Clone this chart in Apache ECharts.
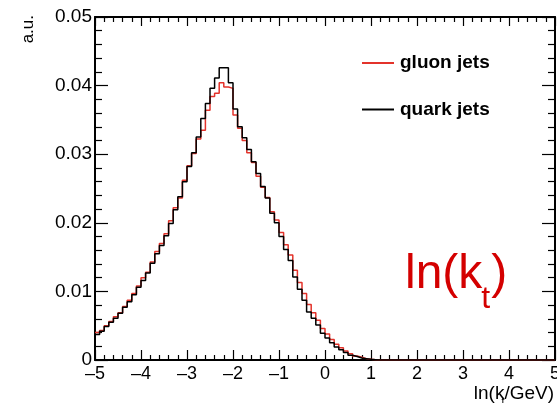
<!DOCTYPE html>
<html>
<head>
<meta charset="utf-8">
<script src="https://cdn.jsdelivr.net/npm/echarts@6/dist/echarts.min.js"></script>
<style>
  html, body { margin: 0; padding: 0; background: #fff; }
  #chart { width: 557px; height: 403px; }
</style>
</head>
<body>
<div id="chart"></div>
<script>
// Histogram binning: 100 bins of width 0.1 on ln(kt/GeV) in [-5, 5]
const binLow = -5;
const binWidth = 0.1;
const nBins = 100;

// Normalised bin contents, gluon jets
const gluonJets = [
  0.0040, 0.0043, 0.0050, 0.0056, 0.0063, 0.0069, 0.0078, 0.0087, 0.0097, 0.0108,
  0.0120, 0.0128, 0.0143, 0.0158, 0.0170, 0.0184, 0.0203, 0.0222, 0.0236, 0.0262,
  0.0283, 0.0301, 0.0322, 0.0335, 0.0364, 0.0384, 0.0389, 0.0404, 0.0398, 0.0396,
  0.0357, 0.0338, 0.0320, 0.0302, 0.0288, 0.0268, 0.0252, 0.0237, 0.0216, 0.0204,
  0.0186, 0.0168, 0.0153, 0.0131, 0.0113, 0.0097, 0.0081, 0.0069, 0.0058, 0.0046,
  0.0038, 0.0030, 0.0023, 0.0018, 0.0013, 0.0009, 0.0006, 0.0004, 0.0002, 0.0001,
  0.00005, 0, 0, 0, 0, 0, 0, 0, 0, 0,
  0, 0, 0, 0, 0, 0, 0, 0, 0, 0,
  0, 0, 0, 0, 0, 0, 0, 0, 0, 0,
  0, 0, 0, 0, 0, 0, 0, 0, 0, 0
];

// Normalised bin contents, quark jets
const quarkJets = [
  0.0037, 0.0042, 0.0049, 0.0055, 0.0061, 0.0068, 0.0077, 0.0085, 0.0095, 0.0106,
  0.0116, 0.0127, 0.0141, 0.0155, 0.0167, 0.0181, 0.0199, 0.0219, 0.0238, 0.0260,
  0.0282, 0.0302, 0.0325, 0.0352, 0.0374, 0.0396, 0.0411, 0.0426, 0.0426, 0.0404,
  0.0366, 0.0340, 0.0324, 0.0307, 0.0289, 0.0272, 0.0253, 0.0236, 0.0214, 0.0200,
  0.0180, 0.0161, 0.0145, 0.0121, 0.0103, 0.0087, 0.0070, 0.0061, 0.0051, 0.0039,
  0.0032, 0.0025, 0.0019, 0.0015, 0.0011, 0.0007, 0.0005, 0.0003, 0.0002, 0.0001,
  0.00005, 0, 0, 0, 0, 0, 0, 0, 0, 0,
  0, 0, 0, 0, 0, 0, 0, 0, 0, 0,
  0, 0, 0, 0, 0, 0, 0, 0, 0, 0,
  0, 0, 0, 0, 0, 0, 0, 0, 0, 0
];

const xTicks = [-5, -4, -3, -2, -1, 0, 1, 2, 3, 4, 5];
const yTicks = [0, 0.01, 0.02, 0.03, 0.04, 0.05];

const FONT = '"Liberation Sans", Arial, Helvetica, sans-serif';

// Build step points: one point at each bin low edge, plus the closing upper edge
function histPoints(values) {
  const pts = [];
  for (let i = 0; i < nBins; i++) {
    pts.push([+(binLow + i * binWidth).toFixed(4), values[i]]);
  }
  pts.push([+(binLow + nBins * binWidth).toFixed(4), values[nBins - 1]]);
  return pts;
}

function measure(text, font) {
  const c = document.createElement('canvas').getContext('2d');
  c.font = font;
  return c.measureText(text).width;
}

const chart = echarts.init(document.getElementById('chart'), null, { renderer: 'canvas' });

const axisLine = { show: true, onZero: false, lineStyle: { color: '#000', width: 2 } };

const xBase = {
  type: 'value', min: xTicks[0], max: xTicks[xTicks.length - 1], interval: 1,
  splitLine: { show: false }, axisLine: axisLine,
  axisTick: { show: true, inside: true, length: 10, lineStyle: { color: '#000', width: 1.2 } },
  minorTick: { show: true, splitNumber: 5, length: 5, lineStyle: { color: '#000', width: 1.2 } }
};
const yBase = {
  type: 'value', min: yTicks[0], max: yTicks[yTicks.length - 1], interval: 0.01,
  splitLine: { show: false }, axisLine: axisLine,
  axisTick: { show: true, inside: true, length: 13, lineStyle: { color: '#000', width: 1.2 } },
  minorTick: { show: true, splitNumber: 5, length: 7, lineStyle: { color: '#000', width: 1.2 } }
};

// Axis title pieces: ln(k_t/GeV)
const titleFont = '19px ' + FONT;
const subFont = '11px ' + FONT;
const bigFont = '48px ' + FONT;
const bigSubFont = '32px ' + FONT;
const wGeV = measure('/GeV)', titleFont);
const wBigLnK = measure('ln(k', bigFont);
const wBigT = measure('t', bigSubFont);
const titleRight = 554;
const titleSplit = titleRight - wGeV;

const option = {
  animation: false,
  backgroundColor: '#fff',
  grid: { left: 95, right: 2, top: 17, bottom: 43, containLabel: false, outerBoundsMode: 'none' },
  xAxis: [
    Object.assign({}, xBase, {
      position: 'bottom',
      axisLabel: {
        show: true, margin: 5, color: '#000', fontFamily: FONT, fontSize: 18,
        formatter: v => (v < 0 ? '\u2013' + Math.abs(v) : String(v))
      }
    }),
    Object.assign({}, xBase, {
      position: 'top',
      axisLabel: { show: false },
      axisTick: { show: true, inside: true, length: 9, lineStyle: { color: '#000', width: 1.2 } }
    })
  ],
  yAxis: [
    Object.assign({}, yBase, {
      position: 'left',
      axisLabel: {
        show: true, margin: 3, color: '#000', fontFamily: FONT, fontSize: 19,
        formatter: v => (v === 0 ? '0' : v.toFixed(2))
      }
    }),
    Object.assign({}, yBase, {
      position: 'right',
      axisLabel: { show: false }
    })
  ],
  legend: {
    left: 357, top: 48, orient: 'vertical', icon: 'rect',
    itemWidth: 32, itemHeight: 2, itemGap: 26.5,
    textStyle: { fontFamily: FONT, fontSize: 19, fontWeight: 'bold', color: '#000', lineHeight: 20, padding: [0, 0, 0, 1] },
    data: ['gluon jets', 'quark jets']
  },
  series: [
    {
      name: 'gluon jets', type: 'line', step: 'end', xAxisIndex: 0, yAxisIndex: 0,
      data: histPoints(gluonJets), showSymbol: false, symbol: 'none',
      color: '#e3332b', lineStyle: { color: '#e3332b', width: 1.5 }, z: 2
    },
    {
      name: 'quark jets', type: 'line', step: 'end', xAxisIndex: 0, yAxisIndex: 0,
      data: histPoints(quarkJets), showSymbol: false, symbol: 'none',
      color: '#000', lineStyle: { color: '#000', width: 1.5 }, z: 3
    }
  ],
  graphic: [
    // y axis title
    {
      type: 'text', x: 28, y: 15, rotation: Math.PI / 2, z: 10,
      style: { text: 'a.u.', font: '17px ' + FONT, fill: '#000', textAlign: 'right', textVerticalAlign: 'middle' }
    },
    // x axis title
    {
      type: 'text', x: titleSplit, y: 394, z: 10,
      style: { text: 'ln(k', font: titleFont, fill: '#000', textAlign: 'right', textVerticalAlign: 'middle' }
    },
    {
      type: 'text', x: titleSplit - 3, y: 402, z: 10,
      style: { text: 't', font: subFont, fill: '#000', textAlign: 'left', textVerticalAlign: 'middle' }
    },
    {
      type: 'text', x: titleRight, y: 394, z: 10,
      style: { text: '/GeV)', font: titleFont, fill: '#000', textAlign: 'right', textVerticalAlign: 'middle' }
    },
    // large annotation ln(k_t)
    {
      type: 'text', x: 405, y: 275, z: 10,
      style: { text: 'ln(k', font: bigFont, fill: '#d40000', textAlign: 'left', textVerticalAlign: 'middle' }
    },
    {
      type: 'text', x: 405 + wBigLnK - 1, y: 299, z: 10,
      style: { text: 't', font: bigSubFont, fill: '#d40000', textAlign: 'left', textVerticalAlign: 'middle' }
    },
    {
      type: 'text', x: 405 + wBigLnK - 1 + wBigT + 1, y: 275, z: 10,
      style: { text: ')', font: bigFont, fill: '#d40000', textAlign: 'left', textVerticalAlign: 'middle' }
    }
  ]
};

chart.setOption(option);
</script>
</body>
</html>
